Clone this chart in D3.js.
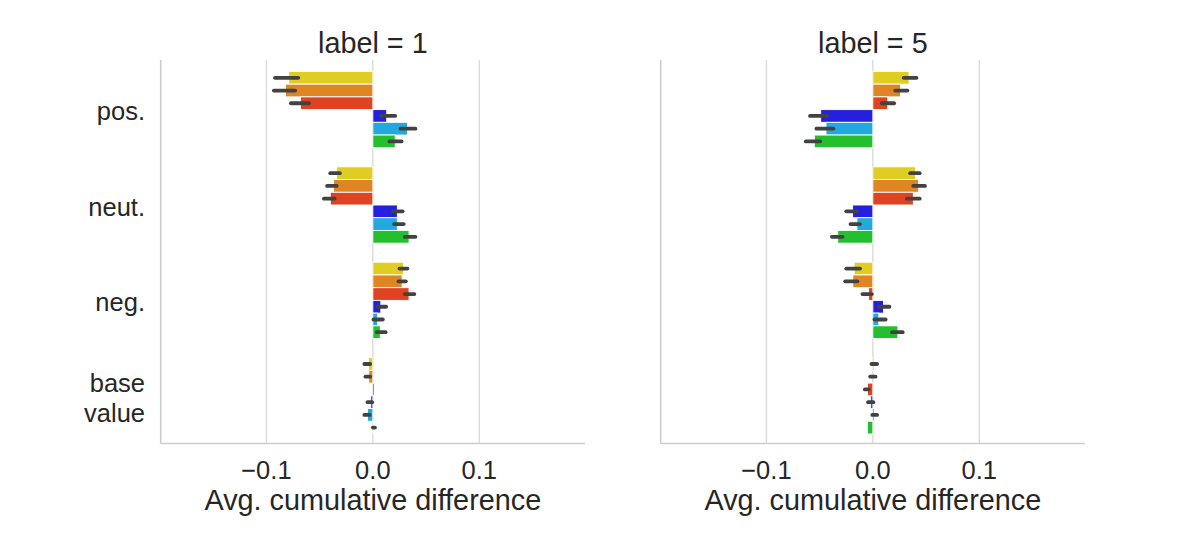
<!DOCTYPE html>
<html>
<head>
<meta charset="utf-8">
<script src="https://cdn.jsdelivr.net/npm/d3@7"></script>
<style>
  html, body { margin: 0; padding: 0; background: #fff; }
  svg { display: block; }
</style>
</head>
<body>
<div id="chart"></div>
<script>
// Categories (y), facets (columns), hue levels (bar colours).
const categories = ["pos.", "neut.", "neg.", "base value"];
const facets = ["label = 1", "label = 5"];
const hueColors = ["#dfcd24", "#df8622", "#df4422", "#2520dd", "#22aade", "#24bf2e"];
const xTicks = [-0.1, 0.0, 0.1];
const xTickLabels = ["\u22120.1", "0.0", "0.1"];

// Mean per category (rows) and hue (cols).
const meansLabel1 = [
  [-0.079, -0.082, -0.068, 0.013, 0.0325, 0.021],
  [-0.034, -0.037, -0.040, 0.023, 0.023, 0.034],
  [0.029, 0.0275, 0.034, 0.0075, 0.0043, 0.007],
  [-0.004, -0.0038, 0.0015, -0.0019, -0.005, 0.0008]
];
const meansLabel5 = [
  [0.034, 0.026, 0.014, -0.049, -0.044, -0.055],
  [0.040, 0.043, 0.038, -0.019, -0.015, -0.033],
  [-0.0176, -0.0188, -0.004, 0.010, 0.0056, 0.0235],
  [0.0012, 0.0, -0.005, -0.002, 0.0015, -0.005]
];

// Confidence intervals [lo, hi], same layout (lo == hi: no visible interval).
const ciLabel1 = [
  [[-0.092, -0.070], [-0.093, -0.073], [-0.077, -0.060], [0.0075, 0.021], [0.026, 0.040], [0.0156, 0.027]],
  [[-0.040, -0.031], [-0.043, -0.034], [-0.046, -0.036], [0.019, 0.028], [0.020, 0.029], [0.030, 0.040]],
  [[0.025, 0.0325], [0.024, 0.031], [0.030, 0.039], [0.004, 0.0125], [0.0006, 0.0094], [0.0038, 0.012]],
  [[-0.008, -0.0025], [-0.007, -0.0025], [0.0015, 0.0015], [-0.005, -0.0006], [-0.008, -0.003], [0.0, 0.002]]
];
const ciLabel5 = [
  [[0.029, 0.041], [0.021, 0.0325], [0.0085, 0.020], [-0.059, -0.043], [-0.053, -0.037], [-0.063, -0.0495]],
  [[0.035, 0.044], [0.038, 0.049], [0.032, 0.044], [-0.025, -0.015], [-0.021, -0.012], [-0.0385, -0.0285]],
  [[-0.025, -0.012], [-0.026, -0.0145], [-0.0098, -0.0009], [0.0053, 0.0156], [0.0015, 0.012], [0.018, 0.028]],
  [[-0.0013, 0.004], [-0.0025, 0.0025], [-0.0075, -0.0038], [-0.0045, 0.0005], [-0.0005, 0.004], [-0.005, -0.005]]
];

const facetData = [
  { title: facets[0], means: meansLabel1, ci: ciLabel1 },
  { title: facets[1], means: meansLabel5, ci: ciLabel5 }
];

(function () {
  const W = 1196, H = 548;
  const TEXT = "#262626";
  const GRID = "#dddddd";
  const SPINE = "#cccccc";
  const ERR = "#424242";
  const FONT = "'Liberation Sans', Arial, sans-serif";
  const TICK_FONT = `25.5px ${FONT}`;
  const LABEL_FONT = `28.8px ${FONT}`;

  const panelX = [160.7, 660.7];
  const panelW = 424.3;
  const top = 60, bottom = 443.5;

  const svg = d3.select("#chart").append("svg").attr("width", W).attr("height", H);

  // Shared y scale: category index, seaborn-style inverted limits.
  const y = d3.scaleLinear().domain([-0.52, 3.5]).range([top, bottom]);
  const nHue = hueColors.length;
  const barH = 0.8 / nHue; // in category units
  const hueOffset = (j) => -0.4 + barH * j;

  facetData.forEach((f, k) => {
    const x0 = panelX[k];
    const x = d3.scaleLinear().domain([-0.1993, 0.1993]).range([x0, x0 + panelW]);
    const g = svg.append("g");

    // Vertical gridlines.
    g.selectAll("line.grid")
      .data(xTicks)
      .join("line")
      .attr("x1", (d) => x(d)).attr("x2", (d) => x(d))
      .attr("y1", top).attr("y2", bottom)
      .attr("stroke", GRID).attr("stroke-width", 1.5);

    // Flatten cells for the bars.
    const cells = [];
    f.means.forEach((row, i) =>
      row.forEach((v, j) => cells.push({ i, j, v, lo: f.ci[i][j][0], hi: f.ci[i][j][1] }))
    );

    g.selectAll("rect.bar")
      .data(cells)
      .join("rect")
      .attr("x", (d) => Math.min(x(0), x(d.v)))
      .attr("width", (d) => Math.abs(x(d.v) - x(0)))
      .attr("y", (d) => y(d.i + hueOffset(d.j)))
      .attr("height", (d) => y(barH) - y(0))
      .attr("fill", (d) => hueColors[d.j])
      .attr("stroke", "#fff")
      .attr("stroke-width", 0.9);

    // Error bars (round caps so tiny intervals still show as dots).
    g.selectAll("line.err")
      .data(cells.filter((d) => d.hi > d.lo))
      .join("line")
      .attr("x1", (d) => x(d.lo)).attr("x2", (d) => x(d.hi))
      .attr("y1", (d) => y(d.i + hueOffset(d.j) + barH / 2))
      .attr("y2", (d) => y(d.i + hueOffset(d.j) + barH / 2))
      .attr("stroke", ERR)
      .attr("stroke-width", 3.8)
      .attr("stroke-linecap", "round");

    // Spines: left + bottom.
    g.append("line")
      .attr("x1", x0).attr("x2", x0).attr("y1", top).attr("y2", bottom)
      .attr("stroke", SPINE).attr("stroke-width", 1.6);
    g.append("line")
      .attr("x1", x0).attr("x2", x0 + panelW).attr("y1", bottom).attr("y2", bottom)
      .attr("stroke", SPINE).attr("stroke-width", 1.6);

    // X tick labels.
    g.selectAll("text.xt")
      .data(xTicks)
      .join("text")
      .attr("x", (d) => x(d))
      .attr("y", 479.3)
      .attr("text-anchor", "middle")
      .attr("fill", TEXT)
      .style("font", TICK_FONT)
      .text((d, i) => xTickLabels[i]);

    // Axis label + facet title.
    g.append("text")
      .attr("x", x0 + panelW / 2).attr("y", 510)
      .attr("text-anchor", "middle").attr("fill", TEXT)
      .style("font", LABEL_FONT)
      .text("Avg. cumulative difference");
    g.append("text")
      .attr("x", x0 + panelW / 2).attr("y", 52.5)
      .attr("text-anchor", "middle").attr("fill", TEXT)
      .style("font", LABEL_FONT)
      .text(f.title);

    // Y tick labels only on the first facet (shared y).
    if (k === 0) {
      const yt = g.selectAll("text.yt")
        .data(categories)
        .join("text")
        .attr("text-anchor", "end")
        .attr("fill", TEXT)
        .style("font", TICK_FONT);
      yt.each(function (d, i) {
        const lines = d.split(" ");
        const t = d3.select(this);
        const lh = 30;
        const first = y(i) + 10.8 - ((lines.length - 1) * lh) / 2;
        lines.forEach((ln, m) => {
          t.append("tspan").attr("x", 145).attr("y", first + m * lh).text(ln);
        });
      });
    }
  });
})();
</script>
</body>
</html>
